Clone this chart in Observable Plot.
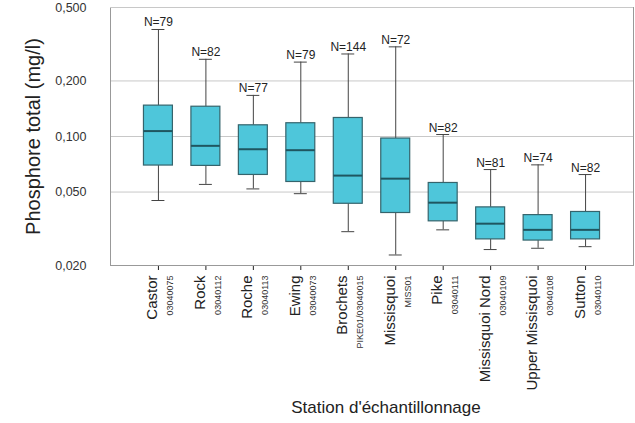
<!DOCTYPE html>
<html>
<head>
<meta charset="utf-8">
<script src="https://cdn.jsdelivr.net/npm/d3@7"></script>
<script src="https://cdn.jsdelivr.net/npm/@observablehq/plot@0.6"></script>
<style>
  html, body { margin: 0; padding: 0; background: #fff; }
  #chart svg g[aria-label*="x-axis"] line { stroke: #888; }
</style>
</head>
<body>
<div id="chart"></div>
<script>
const stations = ["Castor", "Rock", "Roche", "Ewing", "Brochets", "Missisquoi", "Pike", "Missisquoi Nord", "Upper Missisquoi", "Sutton"];
const codes = ["03040075", "03040112", "03040113", "03040073", "PIKE01/03040015", "MISS01", "03040111", "03040109", "03040108", "03040110"];
const counts = [79, 82, 77, 79, 144, 72, 82, 81, 74, 82];
const whiskerLow = [0.045, 0.055, 0.052, 0.049, 0.0305, 0.0228, 0.0312, 0.0244, 0.0248, 0.0253];
const q1 = [0.0696, 0.0693, 0.0619, 0.0567, 0.0432, 0.0385, 0.0347, 0.0277, 0.0273, 0.0277];
const median = [0.107, 0.089, 0.0853, 0.0843, 0.0614, 0.0591, 0.0438, 0.0337, 0.0312, 0.0312];
const q3 = [0.147, 0.145, 0.115, 0.118, 0.126, 0.0975, 0.056, 0.0413, 0.0375, 0.039];
const whiskerHigh = [0.38, 0.262, 0.167, 0.253, 0.280, 0.306, 0.1025, 0.0662, 0.0702, 0.0622];
const yTicks = [0.02, 0.05, 0.1, 0.2, 0.5];
const yTitle = "Phosphore total (mg/l)";
const xTitle = "Station d'échantillonnage";

const data = stations.map((s, i) => ({
  station: s, code: codes[i], n: counts[i],
  lo: whiskerLow[i], q1: q1[i], med: median[i], q3: q3[i], hi: whiskerHigh[i]
}));
const fmt = d => d3.format(".3f")(d).replace(".", ",");

const chart = Plot.plot({
  width: 635,
  height: 423,
  marginLeft: 110,
  marginRight: 2,
  marginTop: 7,
  marginBottom: 158,
  style: { fontFamily: "Arial, 'Liberation Sans', sans-serif", background: "#fff", color: "#222" },
  x: { domain: stations, paddingInner: 0.39, paddingOuter: 0.705, round: false, tickSize: 5, tickFormat: () => "", label: null },
  y: { type: "log", domain: [0.02, 0.5], axis: null },
  marks: [
    Plot.ruleY(yTicks.filter(d => d > 0.02 && d < 0.5), { stroke: "#c8c8c8" }),
    Plot.frame({ stroke: "#999" }),
    Plot.ruleY([0.5], { stroke: "#c8c8c8" }),
    Plot.ruleX(data, { x: "station", y1: "q3", y2: "hi", stroke: "#444" }),
    Plot.ruleX(data, { x: "station", y1: "lo", y2: "q1", stroke: "#444" }),
    Plot.tickY(data, { x: "station", y: "hi", stroke: "#444", insetLeft: 8, insetRight: 8 }),
    Plot.tickY(data, { x: "station", y: "lo", stroke: "#444", insetLeft: 8, insetRight: 8 }),
    Plot.barY(data, { x: "station", y1: "q1", y2: "q3", fill: "#4ec6da", stroke: "#35646c", strokeWidth: 1.2 }),
    Plot.tickY(data, { x: "station", y: "med", stroke: "#1f5660", strokeWidth: 2 }),
    Plot.text(data, { x: "station", y: "hi", text: d => "N=" + d.n, lineAnchor: "bottom", dy: -3, fontSize: 12, fill: "#222" }),
    Plot.text(yTicks, { y: d => d, text: fmt, frameAnchor: "left", dx: -24, textAnchor: "end", fontSize: 12.5, fill: "#333" }),
    Plot.text(data, { x: "station", text: "station", frameAnchor: "bottom", rotate: -90, textAnchor: "end", dy: 10, dx: -1, fontSize: 15, fill: "#222" }),
    Plot.text(data, { x: "station", text: "code", frameAnchor: "bottom", rotate: -90, textAnchor: "end", dy: 10, dx: 15, fontSize: 9, fill: "#333" }),
    Plot.text([yTitle], { text: d => d, frameAnchor: "left", textAnchor: "middle", dx: -77, rotate: -90, fontSize: 20, fill: "#222" }),
    Plot.text([xTitle], { text: d => d, frameAnchor: "bottom", textAnchor: "middle", dx: 14, dy: 147, fontSize: 17, fill: "#222" })
  ]
});
document.getElementById("chart").appendChild(chart);
</script>
</body>
</html>
